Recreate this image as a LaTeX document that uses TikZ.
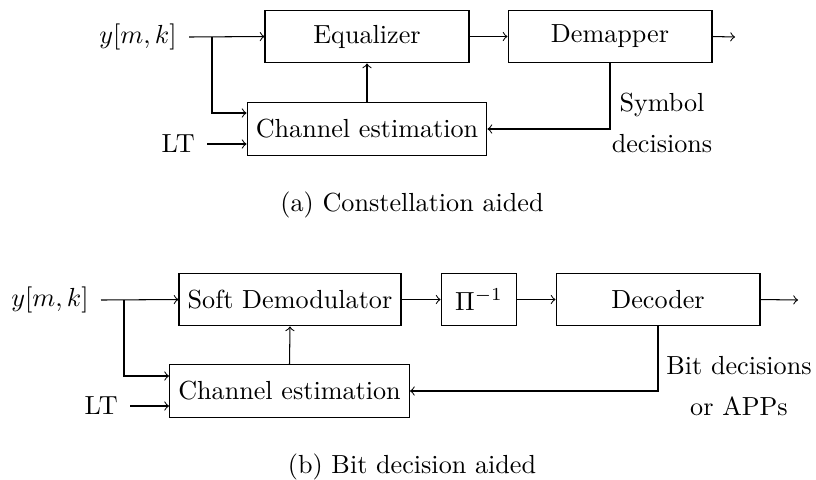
\documentclass[tikz,border=0pt]{standalone}
\usepackage{tikz}
\usetikzlibrary{calc}
\begin{document}
\begin{tikzpicture}[x=0.3824pt,y=-0.3824pt,
  blk/.style={draw,minimum height=20.2pt,inner sep=3.33pt},
  wideblk/.style={blk,minimum width=78pt},
  lbl/.style={inner sep=0pt},
  inlbl/.style={inner ysep=0pt,inner xsep=4.5pt,anchor=east},
  >=to]
\useasboundingbox (0,0) rectangle (816,479);
% ---- (a) ----
\node[wideblk] (eq) at (367,36.5) {Equalizer};
\node[wideblk] (dem) at (610,36.5) {Demapper};
\node[blk] (ce) at (367,129) {Channel estimation};
\node[inlbl] (yin) at (189,37) {$y[m,k]$};
\node[inlbl] (lt) at (207,144) {LT};
\coordinate (b1) at (212,37);
\coordinate (out1) at (735,37);
\draw[->] (yin.east) -- (eq.west);
\draw[->] (b1) |- ($(ce.west)+(0,-16)$);
\draw[->] (lt.east) -- (lt.east -| ce.west);
\draw[->] (ce.north) -- (eq.south);
\draw[->] (eq.east) -- (dem.west);
\draw[->] (dem.east) -- (out1);
\draw[->] (dem.south) |- (ce.east);
\node[lbl,align=center,anchor=base] (sd1) at (662,152.5) {Symbol\\[3.6pt]decisions};
\node[lbl,anchor=base] (capa) at (412,211) {(a) Constellation aided};
% ---- (b) ----
\node[blk] (sd) at (290,299.5) {Soft Demodulator};
\node[blk,minimum width=29pt] (pi) at (479,299.5) {$\Pi^{-1}$};
\node[wideblk] (dec) at (658,299.5) {Decoder};
\node[blk] (ce2) at (289.5,391) {Channel estimation};
\node[inlbl] (yin2) at (101,300) {$y[m,k]$};
\node[inlbl] (lt2) at (130,406) {LT};
\coordinate (b2) at (124,300);
\coordinate (out2) at (798,300);
\draw[->] (yin2.east) -- (sd.west);
\draw[->] (b2) |- ($(ce2.west)+(0,-15)$);
\draw[->] (lt2.east) -- (lt2.east -| ce2.west);
\draw[->] (ce2.north) -- (sd.south);
\draw[->] (sd.east) -- (pi.west);
\draw[->] (pi.east) -- (dec.west);
\draw[->] (dec.east) -- (out2);
\draw[->] (dec.south) |- (ce2.east);
\node[lbl,align=center,anchor=base] (bd) at (739,415) {Bit decisions\\[3.6pt]or APPs};
\node[lbl,anchor=base] (capb) at (412,473.5) {(b) Bit decision aided};
\end{tikzpicture}
\end{document}
